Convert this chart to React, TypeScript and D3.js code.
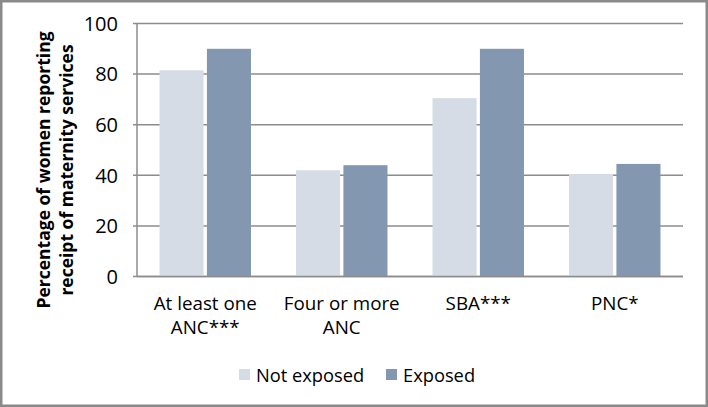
import React, { useEffect } from 'react'
import * as d3 from 'd3'

// categories (two-line labels) and series
const categories = ['At least one ANC***', 'Four or more ANC', 'SBA***', 'PNC*']
const categoryLines = [['At least one', 'ANC***'], ['Four or more', 'ANC'], ['SBA***'], ['PNC*']]
const seriesNames = ['Not exposed', 'Exposed']
const notExposed = [81.5, 42, 70.5, 40.5]
const exposed = [90, 44, 90, 44.5]
const yTicks = [0, 20, 40, 60, 80, 100]

const colors = ['#D6DCE5', '#8497B0']
const font = '"Open Sans", sans-serif'

export default function App() {
    useEffect(() => {
        document.body.style.margin = '0'
    }, [])

    const width = 708
    const height = 407
    const margin = { top: 23.5, right: 25, bottom: 130.5, left: 137 }

    const x = d3.scaleBand()
        .domain(categories)
        .range([margin.left, width - margin.right])
        .paddingInner(0.33)
        .paddingOuter(0.165)

    const xSub = d3.scaleBand()
        .domain(seriesNames)
        .range([0, x.bandwidth()])
        .paddingInner(0.07)

    const y = d3.scaleLinear()
        .domain([0, 100])
        .range([height - margin.bottom, margin.top])

    const rows = categories.map((c, i) => ({ cat: c, vals: [notExposed[i], exposed[i]] }))

    return (
        <svg width={width} height={height} style={{ display: 'block', fontFamily: font }}>
            <rect x={1.25} y={1.25} width={width - 2.5} height={height - 2.5} fill="#fff" stroke="#8a8a8a" strokeWidth={2.5} />

            {/* grid + y ticks */}
            {yTicks.map(t => (
                <g key={t}>
                    <line x1={margin.left - 4} x2={width - margin.right} y1={y(t)} y2={y(t)}
                        stroke="#8c8c8c" strokeWidth={1.5} />
                    <text x={118} y={y(t)} dy="0.36em" textAnchor="end" fontSize={20} fill="#000">{t}</text>
                </g>
            ))}
            <line x1={margin.left} x2={margin.left} y1={y(100)} y2={y(0)} stroke="#8c8c8c" strokeWidth={1.5} />

            {/* bars */}
            {rows.map(r => (
                <g key={r.cat} transform={`translate(${x(r.cat)},0)`}>
                    {r.vals.map((v, j) => (
                        <rect key={j} x={xSub(seriesNames[j])} y={y(v)} width={xSub.bandwidth()}
                            height={y(0) - y(v)} fill={colors[j]} />
                    ))}
                </g>
            ))}
            <line x1={margin.left} x2={width - margin.right} y1={y(0)} y2={y(0)} stroke="#8c8c8c" strokeWidth={1.5} />

            {/* x labels */}
            {categories.map((c, i) => (
                <text key={c} x={(x(c) || 0) + x.bandwidth() / 2} y={310} textAnchor="middle" fontSize={18.8} fill="#000">
                    {categoryLines[i].map((l, k) => (
                        <tspan key={k} x={(x(c) || 0) + x.bandwidth() / 2} dy={k === 0 ? 0 : 24}>{l}</tspan>
                    ))}
                </text>
            ))}

            {/* y axis title */}
            <g transform="translate(50,170) rotate(-90)">
                <text textAnchor="middle" fontSize={17.5} fontWeight="bold" fill="#000">
                    <tspan x={0} dy={0}>Percentage of women reporting</tspan>
                    <tspan x={0} dy={23}>receipt of maternity services</tspan>
                </text>
            </g>

            {/* legend */}
            {seriesNames.map((s, i) => {
                const lx = [239, 386][i]
                return (
                    <g key={s}>
                        <rect x={lx} y={369} width={11} height={11} fill={colors[i]} />
                        <text x={lx + 17} y={381.5} fontSize={18.3} fill="#000">{s}</text>
                    </g>
                )
            })}
        </svg>
    )
}
